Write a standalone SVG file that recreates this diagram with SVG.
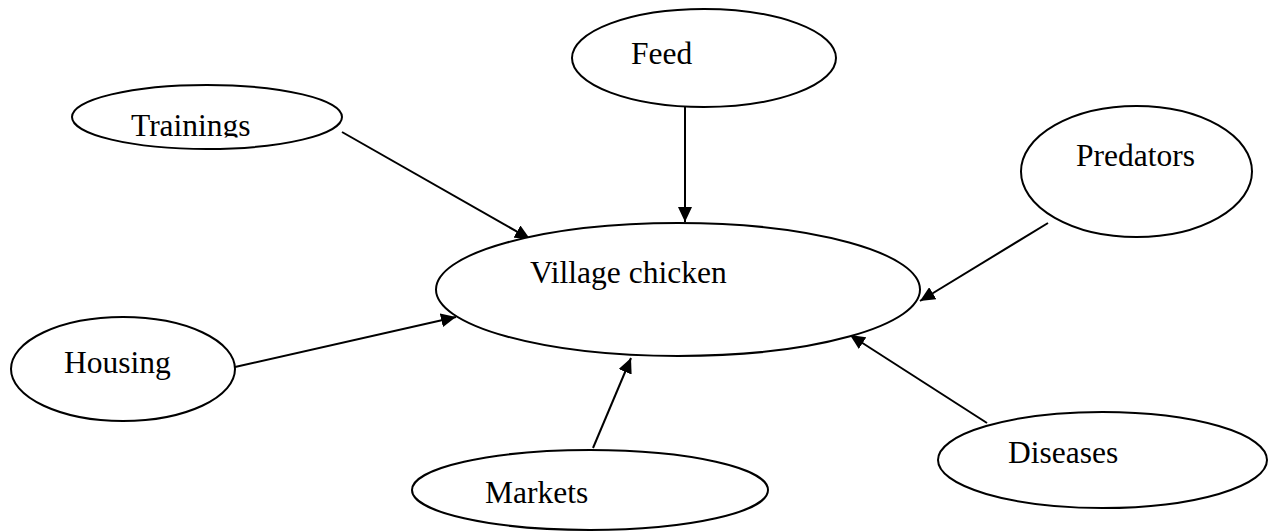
<svg xmlns="http://www.w3.org/2000/svg" width="1273" height="531" viewBox="0 0 1273 531">
<style>
.n{fill:#fff;stroke:#000;stroke-width:2}
.t{font-family:"Liberation Serif","Times New Roman",serif;font-size:31.5px;fill:#000}
.c{stroke:#000;stroke-width:2;fill:none;marker-end:url(#ah)}
</style>
<defs>
<marker id="ah" markerUnits="userSpaceOnUse" markerWidth="16" markerHeight="14" refX="15" refY="7" orient="auto">
<path d="M0,0 L15,7 L0,14 Z" fill="#000"/>
</marker>
<clipPath id="clipT"><rect x="0" y="0" width="400" height="137.5"/></clipPath>
</defs>
<rect width="1273" height="531" fill="#fff"/>
<g id="connectors">
<line class="c" x1="685" y1="107" x2="685" y2="222"/>
<line class="c" x1="342" y1="132" x2="530" y2="239"/>
<line class="c" x1="1048" y1="223" x2="920" y2="301"/>
<line class="c" x1="235" y1="367" x2="456" y2="317"/>
<line class="c" x1="593" y1="448" x2="631" y2="358"/>
<line class="c" x1="987" y1="423" x2="850" y2="335"/>
</g>
<g id="village-chicken">
<ellipse class="n" cx="678" cy="289.5" rx="242" ry="66.5"/>
<text class="t" x="530" y="283">Village chicken</text>
</g>
<g id="feed">
<ellipse class="n" cx="704" cy="58" rx="132" ry="49"/>
<text class="t" x="631" y="64">Feed</text>
</g>
<g id="trainings">
<ellipse class="n" cx="207" cy="117" rx="135" ry="32"/>
<text class="t" x="131" y="136" clip-path="url(#clipT)">Trainings</text>
</g>
<g id="predators">
<ellipse class="n" cx="1136.5" cy="171.5" rx="115.5" ry="65.5"/>
<text class="t" x="1076" y="166">Predators</text>
</g>
<g id="housing">
<ellipse class="n" cx="123" cy="369" rx="112" ry="52"/>
<text class="t" x="64" y="373">Housing</text>
</g>
<g id="markets">
<ellipse class="n" cx="590" cy="490" rx="178" ry="40"/>
<text class="t" x="485" y="503">Markets</text>
</g>
<g id="diseases">
<ellipse class="n" cx="1102.5" cy="460" rx="164.5" ry="48"/>
<text class="t" x="1008" y="463">Diseases</text>
</g>
</svg>
